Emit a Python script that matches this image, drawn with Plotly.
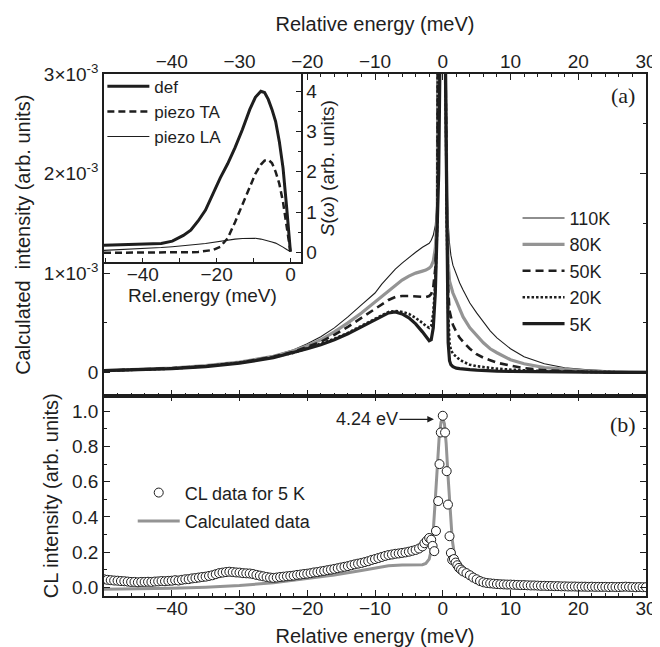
import plotly.graph_objects as go

# ---------------- data ----------------
# (a) main panel: relative energy grid (meV) and calculated intensities (in units of 1e-3)
X_TOP = [-50, -45, -40, -35, -30, -25, -22, -20, -18, -16, -14, -12, -10,
         -9, -8, -7, -6, -5, -4, -3,
         -2.5, -2, -1.7, -1.4, -1.1, -0.8, -0.6, -0.4, -0.2,
         0,
         0.2, 0.4, 0.6, 0.8, 1.0, 1.2, 1.5,
         2, 2.5, 3, 4, 5, 6, 7, 8,
         10, 12, 15, 18, 21, 25, 30]

I_110K = [0.02, 0.03, 0.045, 0.07, 0.11, 0.17, 0.23, 0.29, 0.36, 0.45, 0.56, 0.68, 0.80,
          0.89, 0.97, 1.04, 1.10, 1.16, 1.21, 1.26,
          1.28, 1.30, 1.33, 1.38, 1.48, 1.8, 2.3, 3.5, 7.3,
          20,
          7.3, 3.4, 2.0, 1.5, 1.3, 1.18, 1.08,
          0.98, 0.90, 0.83, 0.70, 0.60, 0.51, 0.42, 0.35,
          0.24, 0.16, 0.09, 0.05, 0.03, 0.015, 0.006]
I_80K = [0.02, 0.03, 0.045, 0.07, 0.105, 0.165, 0.22, 0.27, 0.33, 0.41, 0.50, 0.60, 0.71,
         0.77, 0.83, 0.88, 0.93, 0.97, 1.0, 1.02,
         1.03, 1.05, 1.07, 1.12, 1.25, 1.6, 2.2, 3.4, 7.2,
         20,
         7.2, 3.3, 1.8, 1.1, 0.92, 0.86, 0.80,
         0.72, 0.63, 0.56, 0.45, 0.37, 0.30, 0.24, 0.20,
         0.13, 0.09, 0.05, 0.03, 0.017, 0.008, 0.003]
I_50K = [0.02, 0.03, 0.045, 0.065, 0.1, 0.16, 0.21, 0.26, 0.31, 0.38, 0.46, 0.55, 0.64,
         0.69, 0.73, 0.76, 0.77, 0.77, 0.765, 0.76,
         0.76, 0.77, 0.79, 0.86, 1.05, 1.5, 2.1, 3.3, 7.0,
         20,
         7.0, 3.2, 1.6, 0.85, 0.62, 0.55, 0.48,
         0.41, 0.35, 0.31, 0.24, 0.185, 0.15, 0.125, 0.10,
         0.07, 0.045, 0.025, 0.014, 0.008, 0.004, 0.002]
I_20K = [0.02, 0.03, 0.04, 0.065, 0.1, 0.155, 0.2, 0.245, 0.29, 0.34, 0.40, 0.47, 0.54,
         0.58, 0.61, 0.62, 0.61, 0.59, 0.55, 0.50,
         0.47, 0.45, 0.47, 0.6, 0.9, 1.5, 2.1, 3.3, 7.0,
         20,
         7.0, 3.1, 1.5, 0.6, 0.3, 0.23, 0.19,
         0.16, 0.13, 0.11, 0.08, 0.065, 0.055, 0.047, 0.04,
         0.03, 0.022, 0.015, 0.01, 0.007, 0.004, 0.002]
I_5K = [0.02, 0.03, 0.04, 0.06, 0.095, 0.15, 0.2, 0.24, 0.28, 0.33, 0.39, 0.46, 0.53,
        0.57, 0.60, 0.61, 0.59, 0.55, 0.49, 0.41,
        0.36, 0.32, 0.33, 0.45, 0.8, 1.4, 2.0, 3.2, 7.0,
        20,
        7.0, 3.0, 1.2, 0.3, 0.12, 0.08, 0.06,
        0.045, 0.04, 0.035, 0.03, 0.025, 0.02, 0.018, 0.015,
        0.012, 0.01, 0.008, 0.006, 0.005, 0.003, 0.002]
TOP_SCALE = 1e-3

# inset: spectral densities S(omega)
X_INS = [-50.5, -45, -40, -35, -32, -29, -27, -25, -23, -21, -19, -17, -15, -13, -11,
         -9.5, -8, -7, -6, -5, -4, -3, -2, -1, 0]
S_DEF = [0.18, 0.19, 0.2, 0.22, 0.28, 0.42, 0.55, 0.78, 1.05, 1.45, 1.85, 2.2, 2.6, 3.05, 3.55,
         3.85, 4.0, 3.97, 3.8, 3.55, 3.25, 2.75, 2.1, 1.1, 0.02]
S_TA = [-0.01, -0.01, -0.01, -0.01, 0.0, 0.0, 0.005, 0.01, 0.03, 0.06, 0.14, 0.35, 0.75, 1.2, 1.65,
        1.95, 2.18, 2.28, 2.3, 2.22, 2.0, 1.7, 1.25, 0.65, 0.02]
S_LA = [0.05, 0.07, 0.09, 0.12, 0.14, 0.16, 0.18, 0.2, 0.22, 0.25, 0.27, 0.3, 0.33, 0.345, 0.35,
        0.35, 0.33, 0.31, 0.29, 0.26, 0.23, 0.19, 0.13, 0.07, 0.02]

# (b) CL data for 5 K
CL_X_LEFT = [-50.0, -49.5, -49.0, -48.5, -48.0, -47.5, -47.0, -46.5, -46.0, -45.5,
             -45.0, -44.5, -44.0, -43.5, -43.0, -42.5, -42.0, -41.5, -41.0, -40.5,
             -40.0, -39.5, -39.0, -38.5, -38.0, -37.5, -37.0, -36.5, -36.0, -35.5,
             -35.0, -34.5, -34.0, -33.5, -33.0, -32.5, -32.0, -31.5, -31.0, -30.5,
             -30.0, -29.5, -29.0, -28.5, -28.0, -27.5, -27.0, -26.5, -26.0, -25.5,
             -25.0, -24.5, -24.0, -23.5, -23.0, -22.5, -22.0, -21.5, -21.0, -20.5,
             -20.0, -19.5, -19.0, -18.5, -18.0, -17.5, -17.0, -16.5, -16.0, -15.5,
             -15.0, -14.5, -14.0, -13.5, -13.0, -12.5, -12.0, -11.5, -11.0, -10.5,
             -10.0, -9.5, -9.0, -8.5, -8.0, -7.5, -7.0, -6.5, -6.0, -5.5,
             -5.0, -4.5, -4.0, -3.5, -3.0]
CL_Y_LEFT = [0.045, 0.042, 0.040, 0.038, 0.037, 0.035, 0.034, 0.032, 0.030, 0.030,
             0.028, 0.030, 0.030, 0.031, 0.030, 0.032, 0.033, 0.035, 0.034, 0.036,
             0.037, 0.040, 0.038, 0.042, 0.045, 0.046, 0.050, 0.052, 0.055, 0.058,
             0.060, 0.064, 0.068, 0.074, 0.080, 0.083, 0.086, 0.088, 0.086, 0.084,
             0.083, 0.080, 0.079, 0.078, 0.075, 0.070, 0.066, 0.062, 0.058, 0.055,
             0.053, 0.055, 0.058, 0.060, 0.062, 0.064, 0.066, 0.070, 0.072, 0.075,
             0.077, 0.080, 0.084, 0.086, 0.090, 0.093, 0.097, 0.100, 0.104, 0.108,
             0.112, 0.116, 0.120, 0.125, 0.130, 0.134, 0.138, 0.143, 0.148, 0.155,
             0.160, 0.166, 0.172, 0.178, 0.183, 0.186, 0.190, 0.192, 0.195, 0.198,
             0.202, 0.207, 0.212, 0.220, 0.232]
CL_X_PEAK = [-2.7, -2.35, -2.0, -1.7, -1.5, -1.25, -1.0, -0.67, -0.48, -0.29, 0.0,
             0.34, 0.58, 0.77, 1.0, 1.2, 1.4, 1.65, 1.9, 2.15, 2.4, 2.7]
CL_Y_PEAK = [0.25, 0.265, 0.28, 0.27, 0.235, 0.205, 0.32, 0.49, 0.70, 0.88, 0.975,
             0.88, 0.66, 0.47, 0.29, 0.195, 0.155, 0.16, 0.14, 0.125, 0.11, 0.10]
CL_X_RIGHT = [3.0, 3.5, 4.0, 4.5, 5.0, 5.5, 6.0, 6.5, 7.0, 7.5,
              8.0, 8.5, 9.0, 9.5, 10.0, 10.5, 11.0, 11.5, 12.0, 12.5,
              13.0, 13.5, 14.0, 14.5, 15.0, 15.5, 16.0, 16.5, 17.0, 17.5,
              18.0, 18.5, 19.0, 19.5, 20.0, 20.5, 21.0, 21.5, 22.0, 22.5,
              23.0, 23.5, 24.0, 24.5, 25.0, 25.5, 26.0, 26.5, 27.0, 27.5,
              28.0, 28.5, 29.0, 29.5, 30.0]
CL_Y_RIGHT = [0.090, 0.080, 0.068, 0.055, 0.045, 0.035, 0.028, 0.024, 0.022, 0.020,
              0.018, 0.017, 0.016, 0.015, 0.015, 0.014, 0.013, 0.012, 0.012, 0.011,
              0.010, 0.010, 0.009, 0.008, 0.008, 0.007, 0.007, 0.006, 0.006, 0.005,
              0.005, 0.004, 0.004, 0.004, 0.003, 0.003, 0.003, 0.002, 0.003, 0.002,
              0.002, 0.002, 0.002, 0.001, 0.002, 0.001, 0.001, 0.002, 0.003, 0.002,
              0.001, 0.000, 0.001, 0.000, 0.000]

# (b) calculated curve
X_CALC = [-50, -45, -40, -35, -30, -25, -20, -16, -12, -10, -8, -6, -4, -3, -2.5, -2, -1.7,
          -1.4, -1.1, -0.8, -0.5, -0.25, 0, 0.25, 0.5, 0.8, 1.1, 1.4, 1.7, 2, 2.5, 3, 4, 5,
          6, 8, 10, 15, 20, 25, 30]
Y_CALC = [-0.012, -0.01, -0.006, 0.0, 0.01, 0.025, 0.05, 0.07, 0.095, 0.11, 0.122, 0.127,
          0.127, 0.128, 0.135, 0.16, 0.21, 0.32, 0.5, 0.7, 0.87, 0.94, 0.96, 0.93, 0.82,
          0.62, 0.42, 0.27, 0.19, 0.14, 0.1, 0.075, 0.048, 0.032, 0.022, 0.012, 0.007,
          0.003, 0.001, 0.0, 0.0]

TOP_TICKS = [0, 1e-3, 2e-3, 3e-3]
TOP_TICKTEXT = ["0", "1×10<sup>-3</sup>", "2×10<sup>-3</sup>", "3×10<sup>-3</sup>"]
X_TICKS = [-40, -30, -20, -10, 0, 10, 20, 30]

# ---------------- figure ----------------
INK = "#1e1e1e"
GRAY = "#949494"
FONT = "Liberation Sans, Arial, sans-serif"

fig = go.Figure()

series = [
    ("110K", I_110K, dict(color=INK, width=1.1)),
    ("80K", I_80K, dict(color=GRAY, width=3.2)),
    ("50K", I_50K, dict(color=INK, width=2.6, dash="8px,5px")),
    ("20K", I_20K, dict(color=INK, width=2.6, dash="2.5px,2px")),
    ("5K", I_5K, dict(color=INK, width=3.2)),
]
for name, vals, line in series:
    fig.add_trace(go.Scatter(
        x=X_TOP, y=[v * TOP_SCALE for v in vals], mode="lines", name=name, line=line,
        xaxis="x", yaxis="y", legend="legend", legendgroup=name))

inset = [
    ("def", S_DEF, dict(color=INK, width=3)),
    ("piezo TA", S_TA, dict(color=INK, width=2.5, dash="7px,4px")),
    ("piezo LA", S_LA, dict(color=INK, width=1.1)),
]
for name, vals, line in inset:
    fig.add_trace(go.Scatter(
        x=X_INS, y=vals, mode="lines", name=name, line=line,
        xaxis="x3", yaxis="y3", legend="legend2", legendgroup=name))

fig.add_trace(go.Scatter(
    x=X_CALC, y=Y_CALC, mode="lines", name="Calculated data",
    line=dict(color=GRAY, width=3), xaxis="x2", yaxis="y2",
    legend="legend3", legendgroup="calc", legendrank=2))
fig.add_trace(go.Scatter(
    x=CL_X_LEFT + CL_X_PEAK + CL_X_RIGHT, y=CL_Y_LEFT + CL_Y_PEAK + CL_Y_RIGHT,
    mode="markers", name="CL data for 5 K",
    marker=dict(symbol="circle", size=9, color="white", line=dict(color=INK, width=1)),
    xaxis="x2", yaxis="y2", legend="legend3", legendgroup="cl", legendrank=1))

axis_common = dict(showline=True, linecolor=INK, linewidth=1.5, ticks="inside",
                   tickcolor=INK, tickwidth=1.2, ticklen=6, showgrid=False,
                   zeroline=False, tickfont=dict(size=19, color=INK, family=FONT))

SPLIT = 0.384

fig.update_layout(
    width=660, height=647,
    margin=dict(l=96, r=11, t=66, b=57),
    paper_bgcolor="white", plot_bgcolor="white",
    font=dict(family=FONT, color=INK, size=19),
    xaxis=dict(domain=[0, 1], anchor="y", side="top", range=[-50, 30],
               tickvals=X_TICKS, mirror="allticks", ticklabelstandoff=-3,
               minor=dict(dtick=2, tick0=0, ticks="inside", ticklen=3, tickcolor=INK),
               title=dict(text="Relative energy (meV)", font=dict(size=20), standoff=14),
               **axis_common),
    yaxis=dict(domain=[SPLIT, 1], anchor="x", range=[-0.23e-3, 3.0e-3],
               tickvals=TOP_TICKS, ticktext=TOP_TICKTEXT, mirror="allticks",
               minor=dict(dtick=0.5e-3, tick0=0, ticks="inside", ticklen=3, tickcolor=INK),
               title=dict(text="Calculated\u00a0 intensity (arb. units)", font=dict(size=20),
                          standoff=8),
               **axis_common),
    xaxis2=dict(domain=[0, 1], anchor="y2", side="bottom", range=[-50, 30],
                tickvals=X_TICKS, mirror="allticks", ticklabelstandoff=-6,
                minor=dict(dtick=2, tick0=0, ticks="inside", ticklen=3, tickcolor=INK),
                title=dict(text="Relative energy (meV)", font=dict(size=20), standoff=11),
                **axis_common),
    yaxis2=dict(domain=[0, SPLIT], anchor="x2", range=[-0.05, 1.09],
                tickvals=[0, 0.2, 0.4, 0.6, 0.8, 1.0], tickformat=".1f", mirror="allticks",
                minor=dict(dtick=0.1, tick0=0, ticks="inside", ticklen=3, tickcolor=INK),
                title=dict(text="CL intensity (arb. units)", font=dict(size=20), standoff=8),
                **axis_common),
    xaxis3=dict(domain=[0, 0.363], anchor="y3", range=[-50.5, 2.8],
                tickvals=[-40, -20, 0], ticklabelstandoff=-6,
                minor=dict(tickvals=[-50, -30, -10], ticks="inside", ticklen=5, tickcolor=INK),
                title=dict(text="Rel.energy (meV)", font=dict(size=19), standoff=0),
                **{**axis_common, "ticklen": 5}),
    yaxis3=dict(domain=[0.639, 1], anchor="x3", side="right", range=[-0.25, 4.43],
                tickvals=[0, 1, 2, 3, 4],
                minor=dict(dtick=0.5, tick0=0, ticks="inside", ticklen=3, tickcolor=INK),
                title=dict(text="<i>S</i>(<i>ω</i>) (arb. units)", font=dict(size=19),
                           standoff=4),
                **{**axis_common, "ticklen": 5}),
    legend=dict(x=0.763, y=0.759, xanchor="left", yanchor="top", bgcolor="rgba(0,0,0,0)",
                font=dict(size=18, color=INK), traceorder="grouped", tracegroupgap=0,
                itemwidth=42),
    legend2=dict(x=-0.003, y=1.01, xanchor="left", yanchor="top", bgcolor="rgba(0,0,0,0)",
                 font=dict(size=17, color=INK), traceorder="grouped", tracegroupgap=0,
                 itemwidth=42),
    legend3=dict(x=0.053, y=0.233, xanchor="left", yanchor="top", bgcolor="rgba(0,0,0,0)",
                 font=dict(size=18, color=INK), traceorder="grouped", tracegroupgap=2,
                 itemwidth=42),
    showlegend=True,
)

fig.add_annotation(x=-1.3, y=0.955, xref="x2", yref="y2", text="4.24 eV",
                   showarrow=True, arrowhead=2, arrowsize=1.1, arrowwidth=1.2,
                   arrowcolor=INK, ax=-67, ay=0, standoff=0,
                   font=dict(size=18, color=INK))
fig.add_annotation(x=0.957, y=0.958, xref="paper", yref="paper", text="(a)",
                   xanchor="center", yanchor="middle", showarrow=False,
                   font=dict(size=22, family="Liberation Serif, serif", color=INK))
fig.add_annotation(x=0.957, y=0.329, xref="paper", yref="paper", text="(b)",
                   xanchor="center", yanchor="middle", showarrow=False,
                   font=dict(size=22, family="Liberation Serif, serif", color=INK))

fig.write_html("out.html")
